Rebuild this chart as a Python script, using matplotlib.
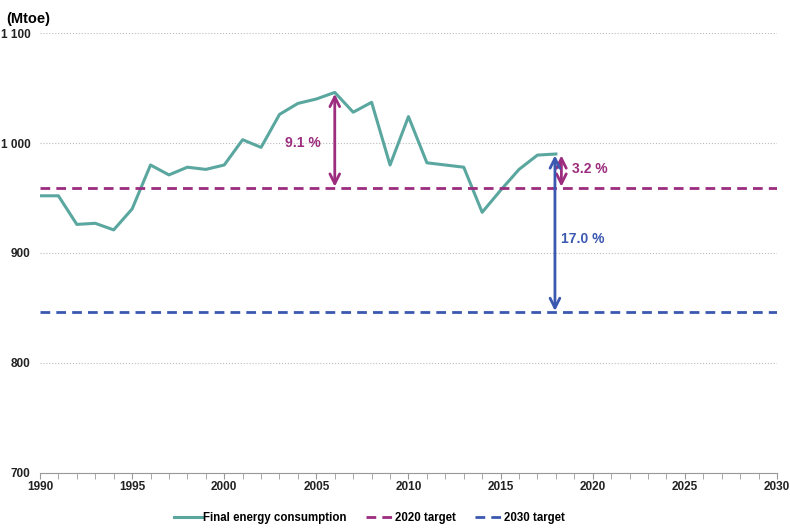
import numpy as np
import matplotlib.pyplot as plt

plt.rcParams['font.family'] = ['Liberation Sans', 'DejaVu Sans']
plt.rcParams['font.weight'] = 'bold'

years = list(range(1990, 2019))
consumption = [952, 952, 926, 927, 921, 940, 980, 971, 978, 976,
               980, 1003, 996, 1026, 1036, 1040, 1046, 1028, 1037, 980,
               1024, 982, 980, 978, 937, 957, 976, 989, 990]
target_2020 = 959
target_2030 = 846

teal = '#5aa7a0'
purple = '#9c2c7e'
blue = '#3a58b0'

fig = plt.figure(figsize=(7.9, 5.29), dpi=100)
ax = fig.add_axes([0.0506, 0.1059, 0.9329, 0.8317])

ax.plot(years, consumption, color=teal, lw=2.2, label='Final energy consumption')
ax.axhline(target_2020, color=purple, lw=2, ls=(0, (3.5, 2.2)), label='2020 target')
ax.axhline(target_2030, color=blue, lw=2, ls=(0, (3.5, 2.2)), label='2030 target')

arrow_kw = dict(arrowstyle='<->,head_length=0.7,head_width=0.35', lw=2,
                shrinkA=1, shrinkB=1)

# gap arrows
peak_year = years[int(np.argmax(consumption))]
peak = max(consumption)
ax.annotate('', xy=(peak_year, target_2020), xytext=(peak_year, peak),
            arrowprops=dict(color=purple, **arrow_kw))
ax.text(peak_year - 0.75, 1000, '9.1 %', color=purple, fontsize=10, ha='right', va='center')

last_year = years[-1]
last = consumption[-1]
ax.annotate('', xy=(last_year + 0.3, target_2020), xytext=(last_year + 0.3, last),
            arrowprops=dict(color=purple, **arrow_kw))
ax.text(last_year + 0.85, 976, '3.2 %', color=purple, fontsize=10, ha='left', va='center')

ax.annotate('', xy=(last_year - 0.05, target_2030), xytext=(last_year - 0.05, last),
            arrowprops=dict(color=blue, **arrow_kw))
ax.text(last_year + 0.3, 913, '17.0 %', color=blue, fontsize=10, ha='left', va='center')

ax.set_xlim(1990, 2030)
ax.set_ylim(700, 1100)
ax.set_xticks(range(1990, 2031, 5))
ax.set_xticks(range(1990, 2031), minor=True)
ax.set_yticks([700, 800, 900, 1000, 1100])
ax.set_yticklabels(['700', '800', '900', '1 000', '1 100'])
ax.tick_params(axis='both', labelsize=8.5, colors='#222222')
ax.tick_params(axis='x', which='both', direction='out', length=4, color='#999999', pad=2)
ax.tick_params(axis='y', length=0, pad=7)
ax.yaxis.grid(True, color='#bbbbbb', ls=':', lw=0.8)
for s in ['left', 'right', 'top']:
    ax.spines[s].set_visible(False)
ax.spines['bottom'].set_color('#999999')

fig.text(0.008, 0.965, '(Mtoe)', fontsize=10.5, ha='left', va='center')

fig.legend(loc='center', bbox_to_anchor=(0.468, 0.021), ncol=3, frameon=False,
           fontsize=8.3, handlelength=2.4, columnspacing=1.7, handletextpad=0.1)

fig.savefig('out.png', dpi=100)
